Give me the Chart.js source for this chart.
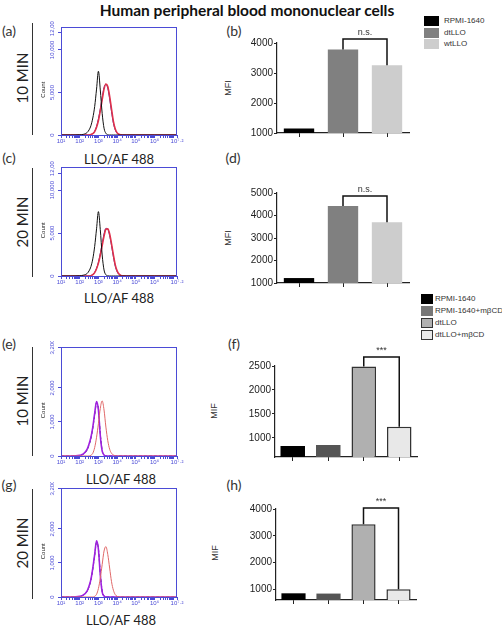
<!DOCTYPE html>
<html>
<head>
<meta charset="utf-8">
<script src="https://cdn.jsdelivr.net/npm/chart.js@4.4.0/dist/chart.umd.min.js"></script>
<style>
  body { margin: 0; background: #fff; }
  #page { position: relative; width: 502px; height: 627px; overflow: hidden; font-family: Lato, "Liberation Sans", sans-serif; color: #222; }
  .t { position: absolute; white-space: nowrap; line-height: 1; transform: translate(-50%, -50%); }
  .r { transform: translate(-50%, -50%) rotate(-90deg); }
  .pl { font-size: 14px; color: #333; }
  .min { font-size: 15px; color: #222; }
  .xl { font-size: 13px; color: #222; }
  .yl { font: 9px "Liberation Sans", Arial, sans-serif; color: #333; }
  .vl { position: absolute; left: 32px; width: 1px; background: #333; }
  .sw { position: absolute; box-sizing: border-box; }
  .lg { position: absolute; font: 8px "Liberation Sans", Arial, sans-serif; color: #333; white-space: nowrap; line-height: 1; transform: translateY(-50%); }
  canvas { position: absolute; }
</style>
</head>
<body>
<div id="page">
  <div class="t" style="left:247px;top:11px;font-weight:bold;font-size:15.5px;color:#111">Human peripheral blood mononuclear cells</div>

  <div class="t pl" style="left:9px;top:31px">(a)</div>
  <div class="t pl" style="left:234px;top:31px">(b)</div>
  <div class="t pl" style="left:9px;top:158px">(c)</div>
  <div class="t pl" style="left:233px;top:158px">(d)</div>
  <div class="t pl" style="left:9px;top:344px">(e)</div>
  <div class="t pl" style="left:234px;top:344px">(f)</div>
  <div class="t pl" style="left:9px;top:485px">(g)</div>
  <div class="t pl" style="left:234px;top:485px">(h)</div>

  <div class="vl" style="top:23px;height:112px"></div>
  <div class="vl" style="top:168px;height:109px"></div>
  <div class="vl" style="top:347px;height:109px"></div>
  <div class="vl" style="top:489px;height:110px"></div>
  <div class="t r min" style="left:22px;top:78px">10 MIN</div>
  <div class="t r min" style="left:22px;top:222px">20 MIN</div>
  <div class="t r min" style="left:22px;top:401px">10 MIN</div>
  <div class="t r min" style="left:22px;top:543px">20 MIN</div>

  <div class="t xl" style="left:119px;top:159px">LLO/AF 488</div>
  <div class="t xl" style="left:119px;top:298px">LLO/AF 488</div>
  <div class="t xl" style="left:121px;top:479px">LLO/AF 488</div>
  <div class="t xl" style="left:121px;top:620px">LLO/AF 488</div>

  <div class="t r yl" style="left:228px;top:88px">MFI</div>
  <div class="t r yl" style="left:228px;top:238px">MFI</div>
  <div class="t r yl" style="left:214px;top:411px">MIF</div>
  <div class="t r yl" style="left:215px;top:553px">MIF</div>

  <!-- legenda 1 -->
  <div class="sw" style="left:424px;top:16px;width:15px;height:10px;background:#000"></div>
  <div class="sw" style="left:424px;top:28px;width:15px;height:10px;background:#808080"></div>
  <div class="sw" style="left:424px;top:39px;width:15px;height:10px;background:#cdcdcd"></div>
  <div class="lg" style="left:444px;top:21px">RPMI-1640</div>
  <div class="lg" style="left:444px;top:33px">dtLLO</div>
  <div class="lg" style="left:444px;top:44px">wtLLO</div>

  <!-- legenda 2 -->
  <div class="sw" style="left:421px;top:294px;width:12px;height:10px;background:#000"></div>
  <div class="sw" style="left:421px;top:306px;width:12px;height:10px;background:#777"></div>
  <div class="sw" style="left:421px;top:318px;width:12px;height:10px;background:#b0b0b0;border:1.5px solid #333"></div>
  <div class="sw" style="left:421px;top:330px;width:12px;height:10px;background:#e8e8e8;border:1.5px solid #333"></div>
  <div class="lg" style="left:435px;top:299px">RPMI-1640</div>
  <div class="lg" style="left:435px;top:311px">RPMI-1640+mβCD</div>
  <div class="lg" style="left:435px;top:323px">dtLLO</div>
  <div class="lg" style="left:435px;top:335px">dtLLO+mβCD</div>
</div>

<script>
// eixo x dos histogramas (log10 da fluorescência), comum a todas as curvas
const histX = [1, 1.5, 2, 2.2, 2.4, 2.5, 2.6, 2.7, 2.8, 2.9, 3, 3.1, 3.2, 3.3, 3.4, 3.5, 3.6, 3.7, 3.8, 3.9, 4, 4.1, 4.2, 4.3, 4.5, 5, 6, 7.2];

// (a) 10 min
const aBlack = [0, 0, 30, 80, 300, 600, 1100, 2000, 3350, 5400, 7500, 5300, 2550, 800, 200, 30, 0, 0, 0, 0, 0, 0, 0, 0, 0, 0, 0, 0];
const aRed   = [0, 0, 0, 0, 0, 0, 50, 150, 400, 900, 1700, 2850, 4150, 5400, 6000, 5700, 4550, 3050, 1600, 700, 250, 80, 20, 0, 0, 0, 0, 0];
const aBlue  = [0, 0, 0, 0, 0, 0, 60, 180, 450, 1000, 1900, 3050, 4350, 5600, 5950, 5500, 4250, 2750, 1400, 600, 200, 60, 10, 0, 0, 0, 0, 0];
// (c) 20 min
const cBlack = [0, 0, 30, 100, 300, 600, 1100, 2000, 3450, 5500, 7500, 5400, 2450, 700, 150, 20, 0, 0, 0, 0, 0, 0, 0, 0, 0, 0, 0, 0];
const cRed   = [0, 0, 0, 0, 0, 0, 40, 150, 400, 850, 1500, 2450, 3550, 4650, 5450, 5500, 4900, 3750, 2450, 1300, 600, 220, 60, 10, 0, 0, 0, 0];
const cBlue  = [0, 0, 0, 0, 0, 0, 50, 170, 430, 900, 1600, 2600, 3750, 4900, 5550, 5450, 4700, 3550, 2250, 1150, 500, 180, 50, 0, 0, 0, 0, 0];
// (e) 10 min, mβCD
const ePurple = [0, 0, 20, 60, 200, 350, 550, 850, 1250, 1600, 1350, 600, 150, 30, 0, 0, 0, 0, 0, 0, 0, 0, 0, 0, 0, 0, 0, 0];
const eBlack  = [0, 0, 20, 55, 180, 320, 520, 820, 1200, 1560, 1380, 650, 170, 30, 0, 0, 0, 0, 0, 0, 0, 0, 0, 0, 0, 0, 0, 0];
const eRed    = [0, 0, 0, 0, 0, 0, 20, 80, 250, 550, 950, 1400, 1620, 1350, 850, 450, 200, 80, 30, 10, 0, 0, 0, 0, 0, 0, 0, 0];
// (g) 20 min, mβCD
const gPurple = [0, 0, 20, 60, 180, 320, 520, 850, 1250, 1650, 1400, 650, 150, 30, 0, 0, 0, 0, 0, 0, 0, 0, 0, 0, 0, 0, 0, 0];
const gBlack  = [0, 0, 20, 55, 170, 300, 500, 820, 1220, 1600, 1420, 700, 180, 30, 0, 0, 0, 0, 0, 0, 0, 0, 0, 0, 0, 0, 0, 0];
const gRed    = [0, 0, 0, 0, 0, 0, 0, 0, 20, 80, 250, 550, 950, 1350, 1480, 1250, 850, 450, 200, 70, 20, 0, 0, 0, 0, 0, 0, 0];

const histYTicksA = [0, 5000, 10000, 12000];
const histYTicksE = [0, 1000, 2000, 3200];
const decadeLabels = [[1, "10¹"], [2, "10²"], [3, "10³"], [4, "10⁴"], [5, "10⁵"], [6, "10⁶"], [7.2, "10⁷·²"]];

// barras
const bCats = ["RPMI-1640", "dtLLO", "wtLLO"];
const bVals = [1150, 3780, 3260];
const dVals = [1220, 4420, 3700];
const fCats = ["RPMI-1640", "RPMI-1640+mβCD", "dtLLO", "dtLLO+mβCD"];
const fVals = [830, 850, 2490, 1230];
const hVals = [850, 840, 3430, 1000];
const bTicks = [1000, 2000, 3000, 4000];
const dTicks = [1000, 2000, 3000, 4000, 5000];
const fTicks = [1000, 1500, 2000, 2500];
const hTicks = [1000, 2000, 3000, 4000];
// [barra 1, barra 2, altura do colchete, texto]
const bSig = [1, 2, 4130, "n.s."];
const dSig = [1, 2, 4870, "n.s."];
const fSig = [2, 3, 2690, "***"];
const hSig = [2, 3, 4040, "***"];

const BLUE = "#4b4bd6";
const INK = "#222";
Chart.defaults.font.family = "'Liberation Sans', Arial, sans-serif";

const page = document.getElementById("page");

// cria um canvas cuja área de plotagem cai em plot = [left, top, right, bottom]
function addCanvas(plot, m) {
  const c = document.createElement("canvas");
  const w = plot[2] - plot[0] + m.l + m.r;
  const h = plot[3] - plot[1] + m.t + m.b;
  c.width = w;
  c.height = h;
  c.style.left = plot[0] - m.l + "px";
  c.style.top = plot[1] - m.t + "px";
  c.style.width = w + "px";
  c.style.height = h + "px";
  page.appendChild(c);
  return c;
}

// ticks de escala logarítmica (maiores e menores)
const logTicks = [];
for (let n = 1; n <= 7; n++) {
  for (let k = 1; k <= 9; k++) {
    const v = n + Math.log10(k);
    if (v <= 7.2) logTicks.push(v);
  }
}
logTicks.push(7.2);

function decadeLabel(v) {
  const hit = decadeLabels.find((d) => Math.abs(d[0] - v) < 1e-6);
  return hit ? hit[1] : "";
}

function histFrame(yTicks) {
  return {
    id: "histFrame",
    afterDraw(chart) {
      const { ctx, chartArea: a } = chart;
      const ys = chart.scales.y;
      ctx.save();
      ctx.strokeStyle = BLUE;
      ctx.lineWidth = 1;
      ctx.strokeRect(a.left + 0.5, a.top + 0.5, a.right - a.left - 1, a.bottom - a.top);
      ctx.fillStyle = BLUE;
      ctx.font = "6px 'Liberation Sans'";
      ctx.textAlign = "center";
      ctx.textBaseline = "middle";
      yTicks.forEach((v, i) => {
        // o último rótulo fica no topo do quadro, como no original
        const y = i === yTicks.length - 1 ? a.top : ys.getPixelForValue(v);
        ctx.save();
        ctx.translate(a.left - 9, y);
        ctx.rotate(-Math.PI / 2);
        ctx.fillText(v.toLocaleString("en-US"), 0, 0);
        ctx.restore();
      });
      ctx.fillStyle = "#222";
      ctx.translate(a.left - 18, a.top + 0.58 * (a.bottom - a.top));
      ctx.rotate(-Math.PI / 2);
      ctx.fillText("Count", 0, 0);
      ctx.restore();
    },
  };
}

function histChart(plot, yMax, yTicks, curves) {
  const m = { l: 21, t: 6, r: 14, b: 12 };
  new Chart(addCanvas(plot, m), {
    type: "line",
    data: {
      datasets: curves.map((c) => ({
        data: histX.map((x, i) => ({ x: x, y: c[0][i] })),
        borderColor: c[1],
        borderWidth: c[2],
        borderDash: c[3] || [],
        pointRadius: 0,
        fill: false,
        cubicInterpolationMode: "monotone",
        clip: 3,
      })),
    },
    options: {
      responsive: false,
      animation: false,
      layout: { padding: { top: m.t, right: m.r, left: 0, bottom: 0 } },
      plugins: { legend: { display: false }, tooltip: { enabled: false } },
      scales: {
        x: {
          type: "linear",
          min: 1,
          max: 7.2,
          afterBuildTicks: (s) => { s.ticks = logTicks.map((v) => ({ value: v })); },
          afterFit: (s) => { s.height = m.b; },
          ticks: { autoSkip: false, maxRotation: 0, minRotation: 0, padding: 0, color: BLUE, font: { size: 6 }, callback: (v) => decadeLabel(v) },
          grid: { drawOnChartArea: false, tickLength: 3, color: BLUE },
          border: { color: BLUE },
        },
        y: {
          min: 0,
          max: yMax,
          afterBuildTicks: (s) => { s.ticks = yTicks.map((v) => ({ value: v })); },
          afterFit: (s) => { s.width = m.l; },
          ticks: { display: false },
          grid: { drawOnChartArea: false, tickLength: 3, color: BLUE },
          border: { color: BLUE },
        },
      },
    },
    plugins: [histFrame(yTicks)],
  });
}

function sigBracket(sig) {
  return {
    id: "sig",
    afterDraw(chart) {
      const { ctx } = chart;
      const xs = chart.scales.x, ys = chart.scales.y;
      const vals = chart.data.datasets[0].data;
      const x1 = xs.getPixelForValue(sig[0]);
      const x2 = xs.getPixelForValue(sig[1]);
      const yt = ys.getPixelForValue(sig[2]);
      ctx.save();
      ctx.strokeStyle = "#111";
      ctx.lineWidth = 1.5;
      ctx.beginPath();
      ctx.moveTo(x1, ys.getPixelForValue(vals[sig[0]]));
      ctx.lineTo(x1, yt);
      ctx.lineTo(x2, yt);
      ctx.lineTo(x2, ys.getPixelForValue(vals[sig[1]]));
      ctx.stroke();
      ctx.fillStyle = "#333";
      ctx.font = "9px 'Liberation Sans'";
      ctx.textAlign = "center";
      ctx.textBaseline = "bottom";
      ctx.fillText(sig[3], (x1 + x2) / 2, yt - 2);
      ctx.restore();
    },
  };
}

function barChart(plot, cats, vals, colors, borderWidths, yMin, yMax, yTicks, sig) {
  const m = { l: 40, t: 22, r: 8, b: 8 };
  new Chart(addCanvas(plot, m), {
    type: "bar",
    data: {
      labels: cats,
      datasets: [{
        data: vals,
        backgroundColor: colors,
        borderColor: "#333",
        borderWidth: borderWidths,
        borderSkipped: false,
        barPercentage: 0.69,
        categoryPercentage: 1,
        clip: { left: 0, top: 10, right: 0, bottom: 0 },
      }],
    },
    options: {
      responsive: false,
      animation: false,
      layout: { padding: { top: m.t, right: m.r, left: 0, bottom: 0 } },
      plugins: { legend: { display: false }, tooltip: { enabled: false } },
      scales: {
        x: {
          afterFit: (s) => { s.height = m.b; },
          ticks: { padding: 0, callback: () => "" },
          grid: { offset: false, drawOnChartArea: false, tickLength: 4, color: INK },
          border: { color: INK, width: 1.2 },
        },
        y: {
          min: yMin,
          max: yMax,
          afterBuildTicks: (s) => { s.ticks = yTicks.map((v) => ({ value: v })); },
          afterFit: (s) => { s.width = m.l; },
          ticks: { color: INK, padding: 1, font: { size: 10 }, callback: (v) => String(v) },
          grid: { drawOnChartArea: false, tickLength: 3, color: INK },
          border: { color: INK, width: 1.2 },
        },
      },
    },
    plugins: [sigBracket(sig)],
  });
}

// histogramas (o eixo vai um pouco acima de 12,000)
histChart([61, 27, 177, 135], 12700, histYTicksA, [
  [aBlack, "#111", 1],
  [aRed, "#e0304a", 1.6],
  [aBlue, "#3a2aa0", 1],
]);
histChart([61, 167, 177, 276], 12700, histYTicksA, [
  [cBlack, "#111", 1],
  [cRed, "#e0304a", 1.6],
  [cBlue, "#3a2aa0", 1],
]);
histChart([61, 347, 177, 456], 3200, histYTicksE, [
  [eRed, "#e06868", 1],
  [ePurple, "#a020e0", 1.6],
  [eBlack, "#1a1a50", 1, [3, 2]],
]);
histChart([61, 488, 177, 597], 3200, histYTicksE, [
  [gRed, "#e06868", 1],
  [gPurple, "#a020e0", 1.6],
  [gBlack, "#1a1a50", 1, [3, 2]],
]);

// barras
const bColors = ["#000", "#808080", "#cdcdcd"];
const fColors = ["#000", "#555", "#b0b0b0", "#e8e8e8"];
barChart([277, 43, 409, 133], bCats, bVals, bColors, [0, 0, 0], 1000, 4000, bTicks, bSig);
barChart([277, 193, 409, 283], bCats, dVals, bColors, [0, 0, 0], 1000, 5000, dTicks, dSig);
barChart([275, 366, 417, 457], fCats, fVals, fColors, [0, 0, 1.5, 1.5], 600, 2500, fTicks, fSig);
barChart([276, 509, 416, 600], fCats, hVals, fColors, [0, 0, 1.5, 1.5], 600, 4000, hTicks, hSig);
</script>
</body>
</html>
